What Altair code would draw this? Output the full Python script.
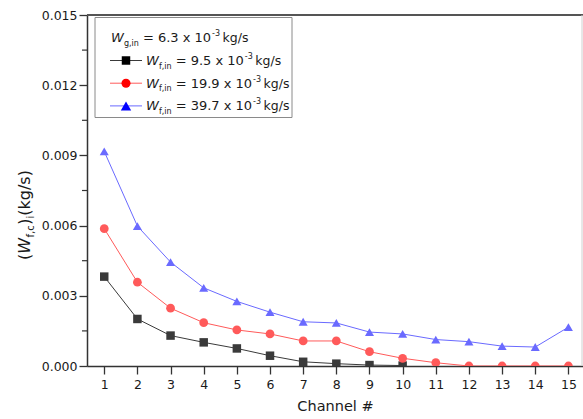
import altair as alt
import pandas as pd

# ---------------- data ----------------
channels = list(range(1, 16))
series_names = ["9.5", "19.9", "39.7"]
w_9_5 = [0.00382, 0.00201, 0.00130, 0.00101, 0.00075, 0.00044, 0.00018, 0.00010, 0.00004, 0.00002]
w_19_9 = [0.00587, 0.00358, 0.00247, 0.00185, 0.00154, 0.00137, 0.00107, 0.00107, 0.00061, 0.00033,
          0.00014, 0.0, 0.0, 0.0, 0.0]
w_39_7 = [0.00917, 0.00598, 0.00444, 0.00334, 0.00276, 0.00230, 0.00189, 0.00184, 0.00145, 0.00137,
          0.00113, 0.00104, 0.00085, 0.00081, 0.00166]
y_ticks = [0.0, 0.003, 0.006, 0.009, 0.012, 0.015]
y_minor = [0.0015, 0.0045, 0.0075, 0.0105, 0.0135]
legend_values = ["9.5", "19.9", "39.7"]

rows = []
for name, vals in zip(series_names, [w_9_5, w_19_9, w_39_7]):
    for c, v in zip(channels, vals):
        rows.append({"series": name, "channel": c, "value": v})
df = pd.DataFrame(rows)
dummy = pd.DataFrame({"d": [0]})

W, H = 496, 351
FONT = "DejaVu Sans"
TXT = "#1a1a1a"
marker_colors = ["#000000", "#ff0000", "#0000ff"]
line_colors = ["#3a3a3a", "#ff5a5a", "#6a6aff"]
shapes = ["square", "circle", "triangle-up"]
sizes = [72, 82, 108]

xscale = alt.Scale(domain=[0.48, 15.44], nice=False, zero=False)
yscale = alt.Scale(domain=[0, 0.015], nice=False)
xaxis = alt.Axis(values=channels, title="Channel #", grid=False, tickSize=8, tickWidth=1.3,
                 domainWidth=1.5, domainColor="#333", tickColor="#333", labelFont=FONT,
                 labelFontSize=12.5, labelColor=TXT, labelPadding=4, titleFont=FONT,
                 titleFontSize=14.5, titleFontWeight="normal", titleColor=TXT, titlePadding=9,
                 labelFlush=False)
yaxis = alt.Axis(values=y_ticks, format=".3f", title=None, grid=False, tickSize=8, tickWidth=1.3,
                 domainWidth=1.5, domainColor="#333", tickColor="#333", labelFont=FONT,
                 labelFontSize=12.5, labelColor=TXT, labelPadding=2, labelFlush=False)

X = alt.X("channel:Q", scale=xscale, axis=xaxis)
Y = alt.Y("value:Q", scale=yscale, axis=yaxis)

lines = alt.Chart(df).mark_line(strokeWidth=1, clip=True).encode(
    x=X, y=Y,
    color=alt.Color("series:N", scale=alt.Scale(domain=series_names, range=line_colors), legend=None),
    detail="series:N",
)
points = alt.Chart(df).mark_point(filled=True, opacity=1, clip=True, strokeWidth=0).encode(
    x=X, y=Y,
    color=alt.Color("series:N", scale=alt.Scale(domain=series_names, range=marker_colors), legend=None),
    shape=alt.Shape("series:N", scale=alt.Scale(domain=series_names, range=shapes), legend=None),
    size=alt.Size("series:N", scale=alt.Scale(domain=series_names, range=sizes), legend=None),
)

minor = alt.Chart(pd.DataFrame({"value": y_minor})).mark_rule(color="#333", strokeWidth=1.2).encode(
    y=Y, x=alt.value(-5), x2=alt.value(0)
)
top = alt.Chart(dummy).mark_rule(color="#555", strokeWidth=2).encode(
    x=alt.value(0), x2=alt.value(W), y=alt.value(0)
)
right = alt.Chart(dummy).mark_rule(color="#d0d0d0", strokeWidth=1).encode(
    x=alt.value(W - 1), y=alt.value(0), y2=alt.value(H)
)

# ---------------- legend (manual, rich text) ----------------
DV = {"0": .636, "1": .636, "2": .636, "3": .636, "4": .636, "5": .636, "6": .636, "7": .636,
      "8": .636, "9": .636, " ": .318, ".": .318, "=": .838, "x": .592, "-": .361, "k": .579,
      "g": .635, "/": .337, "s": .521, ",": .318, "i": .278, "n": .634, "f": .352, "c": .55,
      "(": .39, ")": .39, "W": .989}


def tw(s, fs):
    return sum(DV.get(ch, .6) for ch in s) * fs


layers = []


def text(t, x, y, fs, italic=False, angle=0):
    kw = dict(text=t, font=FONT, fontSize=fs, color=TXT, align="left", baseline="alphabetic")
    if italic:
        kw["fontStyle"] = "italic"
    if angle:
        kw["angle"] = angle
    layers.append(alt.Chart(dummy).mark_text(**kw).encode(x=alt.value(x), y=alt.value(y)))


box = alt.Chart(dummy).mark_rect(fill="white", stroke="#8a8a8a", strokeWidth=1).encode(
    x=alt.value(8), x2=alt.value(205), y=alt.value(2.5), y2=alt.value(102.5)
)
layers.append(box)

FS, SFS = 13, 8


def rich(x0, yb, sub, val):
    text("W", x0, yb, FS, italic=True)
    text(sub, x0 + 13, yb + 3.5, SFS)
    ex = x0 + 13 + tw(sub, SFS) + 4
    eq = "= " + val + " x 10"
    text(eq, ex, yb, FS)
    sx = ex + tw(eq, FS) + 1
    text("-3", sx, yb - 6, SFS)
    text("kg/s", sx + tw("-3", SFS) + 2.5, yb, 12.5)


rich(24, 27.3, "g,in", "6.3")
row_base = [50.0, 72.7, 95.4]
for i, (v, yb) in enumerate(zip(legend_values, row_base)):
    yc = yb - 4.5
    layers.append(alt.Chart(dummy).mark_rule(color=line_colors[i], strokeWidth=1).encode(
        x=alt.value(23), x2=alt.value(55), y=alt.value(yc)))
    layers.append(alt.Chart(dummy).mark_point(filled=True, opacity=1, strokeWidth=0, shape=shapes[i],
                                              size=sizes[i], color=marker_colors[i]).encode(
        x=alt.value(39), y=alt.value(yc)))
    rich(59, yb, "f,in", v)

# ---------------- y title (rotated rich text) ----------------
YF, YS = 16, 10
ax, y0 = -57, 245
s = 0.0
text("(", ax, y0 - s, YF, angle=270); s += tw("(", YF)
text("W", ax, y0 - s, YF, italic=True, angle=270); s += tw("W", YF) + 0.5
text("f,c", ax + 4, y0 - s, YS, angle=270); s += tw("f,c", YS) + 0.5
text(")", ax, y0 - s, YF, angle=270); s += tw(")", YF)
text("i", ax + 4, y0 - s, YS, angle=270); s += tw("i", YS)
text(" (kg/s)", ax, y0 - s, YF, angle=270)

chart = alt.layer(top, right, minor, lines, points, *layers).properties(
    width=W, height=H,
    autosize=alt.AutoSizeParams(type="none"),
    padding={"left": 87, "top": 15, "right": 0, "bottom": 53},
).configure_view(stroke=None).configure(background="white")

chart.save("out.html", embed_options={"renderer": "svg", "actions": False})
